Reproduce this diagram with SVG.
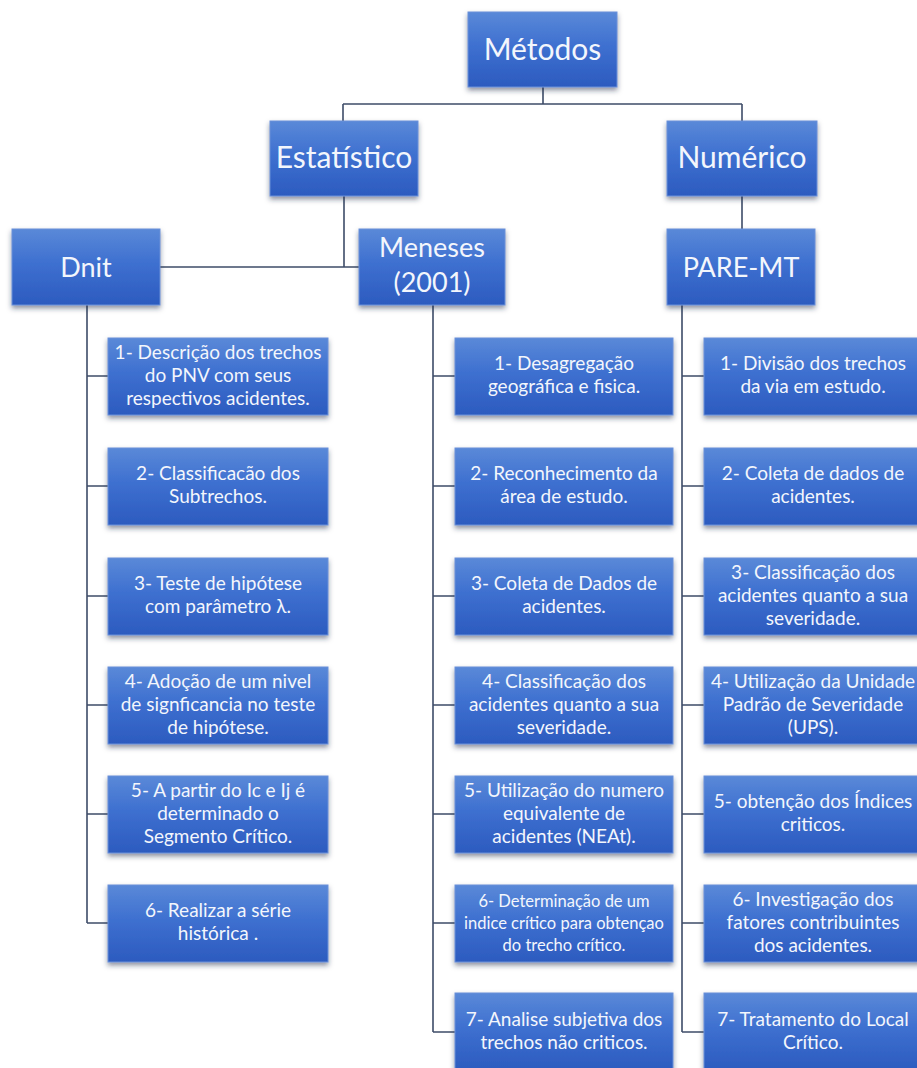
<svg xmlns="http://www.w3.org/2000/svg" width="917" height="1068" viewBox="0 0 917 1068">
<defs>
<linearGradient id="g" x1="0" y1="0" x2="0" y2="1">
<stop offset="0" stop-color="#5a89d8"/>
<stop offset="0.45" stop-color="#3e70d0"/>
<stop offset="1" stop-color="#2c5bbf"/>
</linearGradient>
<filter id="sh" x="-10%" y="-10%" width="120%" height="130%">
<feDropShadow dx="0" dy="3" stdDeviation="2.5" flood-color="#1a2a45" flood-opacity="0.5"/>
</filter>
</defs>
<style>
.b{fill:url(#g);stroke:#6a90d8;stroke-width:1;filter:url(#sh)}
.t{font-family:Lato,"Open Sans",sans-serif;fill:#f3f6fc;text-anchor:middle}
.h{font-size:30px}
.m{font-size:27px}
.s{font-size:19px}
.x{font-size:16.5px}
.c{fill:none;stroke:#3e4c68;stroke-width:1.6}
</style>
<rect width="917" height="1068" fill="#ffffff"/>
<g id="connectors">
<path class="c" d="M543 87V104M343 104H742M343 104V121M742 104V121"/>
<path class="c" d="M344 196V267M160 267H359M742 196V229"/>
<path class="c" d="M87 305V923M87 376H108M87 486H108M87 596H108M87 705H108M87 814H108M87 923H108"/>
<path class="c" d="M433 305V1032M433 376H455M433 486H455M433 596H455M433 705H455M433 814H455M433 923H455M433 1032H455"/>
<path class="c" d="M682 305V1032M682 376H704M682 486H704M682 596H704M682 705H704M682 814H704M682 923H704M682 1032H704"/>
</g>
<g id="metodos"><rect class="b" x="468" y="12" width="149" height="75"/><text class="t h" x="542.5" y="60">Métodos</text></g>
<g id="estatistico"><rect class="b" x="270" y="121" width="148" height="75"/><text class="t h" x="344" y="168">Estatístico</text></g>
<g id="numerico"><rect class="b" x="667" y="121" width="150" height="75"/><text class="t h" x="742" y="168">Numérico</text></g>
<g id="dnit"><rect class="b" x="12" y="229" width="148" height="76"/><text class="t m" x="86" y="277">Dnit</text></g>
<g id="meneses"><rect class="b" x="359" y="229" width="146" height="76"/><text class="t m" x="432" y="257">Meneses</text><text class="t m" x="432" y="292">(2001)</text></g>
<g id="pare"><rect class="b" x="667" y="229" width="148" height="76"/><text class="t m" x="741" y="277">PARE-MT</text></g>

<g id="d1"><rect class="b" x="108" y="338" width="220" height="77"/><text class="t s" x="218" y="359">1- Descrição dos trechos</text><text class="t s" x="218" y="382">do PNV com seus</text><text class="t s" x="218" y="405">respectivos acidentes.</text></g>
<g id="d2"><rect class="b" x="108" y="448" width="220" height="77"/><text class="t s" x="218" y="480">2- Classificacão dos</text><text class="t s" x="218" y="503">Subtrechos.</text></g>
<g id="d3"><rect class="b" x="108" y="558" width="220" height="77"/><text class="t s" x="218" y="590">3- Teste de hipótese</text><text class="t s" x="218" y="613">com parâmetro λ.</text></g>
<g id="d4"><rect class="b" x="108" y="667" width="220" height="77"/><text class="t s" x="218" y="688">4- Adoção de um nivel</text><text class="t s" x="218" y="711">de signficancia no teste</text><text class="t s" x="218" y="734">de hipótese.</text></g>
<g id="d5"><rect class="b" x="108" y="776" width="220" height="77"/><text class="t s" x="218" y="797">5- A partir do Ic e Ij é</text><text class="t s" x="218" y="820">determinado o</text><text class="t s" x="218" y="843">Segmento Crítico.</text></g>
<g id="d6"><rect class="b" x="108" y="885" width="220" height="77"/><text class="t s" x="218" y="917">6- Realizar a série</text><text class="t s" x="218" y="940">histórica .</text></g>

<g id="m1"><rect class="b" x="455" y="338" width="218" height="77"/><text class="t s" x="564" y="370">1- Desagregação</text><text class="t s" x="564" y="393">geográfica e fisica.</text></g>
<g id="m2"><rect class="b" x="455" y="448" width="218" height="77"/><text class="t s" x="564" y="480">2- Reconhecimento da</text><text class="t s" x="564" y="503">área de estudo.</text></g>
<g id="m3"><rect class="b" x="455" y="558" width="218" height="77"/><text class="t s" x="564" y="590">3- Coleta de Dados  de</text><text class="t s" x="564" y="613">acidentes.</text></g>
<g id="m4"><rect class="b" x="455" y="667" width="218" height="77"/><text class="t s" x="564" y="688">4- Classificação dos</text><text class="t s" x="564" y="711">acidentes quanto a sua</text><text class="t s" x="564" y="734">severidade.</text></g>
<g id="m5"><rect class="b" x="455" y="776" width="218" height="77"/><text class="t s" x="564" y="797">5- Utilização do numero</text><text class="t s" x="564" y="820">equivalente de</text><text class="t s" x="564" y="843">acidentes (NEAt).</text></g>
<g id="m6"><rect class="b" x="455" y="885" width="218" height="77"/><text class="t x" x="564" y="907">6- Determinação de um</text><text class="t x" x="564" y="929">indice crítico para obtençao</text><text class="t x" x="564" y="951">do trecho crítico.</text></g>
<g id="m7"><rect class="b" x="455" y="993" width="218" height="77"/><text class="t s" x="564" y="1026">7- Analise subjetiva dos</text><text class="t s" x="564" y="1049">trechos não criticos.</text></g>

<g id="p1"><rect class="b" x="704" y="338" width="220" height="77"/><text class="t s" x="813" y="370">1- Divisão dos trechos</text><text class="t s" x="813" y="393">da via em estudo.</text></g>
<g id="p2"><rect class="b" x="704" y="448" width="220" height="77"/><text class="t s" x="813" y="480">2- Coleta de dados de</text><text class="t s" x="813" y="503">acidentes.</text></g>
<g id="p3"><rect class="b" x="704" y="558" width="220" height="77"/><text class="t s" x="813" y="579">3- Classificação dos</text><text class="t s" x="813" y="602">acidentes quanto a sua</text><text class="t s" x="813" y="625">severidade.</text></g>
<g id="p4"><rect class="b" x="704" y="667" width="220" height="77"/><text class="t s" x="813" y="688">4- Utilização da Unidade</text><text class="t s" x="813" y="711">Padrão de Severidade</text><text class="t s" x="813" y="734">(UPS).</text></g>
<g id="p5"><rect class="b" x="704" y="776" width="220" height="77"/><text class="t s" x="813" y="808">5- obtenção dos Índices</text><text class="t s" x="813" y="831">criticos.</text></g>
<g id="p6"><rect class="b" x="704" y="885" width="220" height="77"/><text class="t s" x="813" y="906">6- Investigação dos</text><text class="t s" x="813" y="929">fatores contribuintes</text><text class="t s" x="813" y="952">dos acidentes.</text></g>
<g id="p7"><rect class="b" x="704" y="993" width="220" height="77"/><text class="t s" x="813" y="1026">7- Tratamento do Local</text><text class="t s" x="813" y="1049">Crítico.</text></g>
</svg>
